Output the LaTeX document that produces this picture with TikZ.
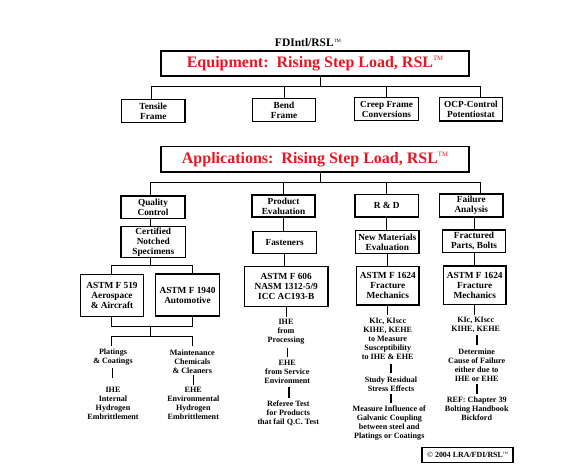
\documentclass[tikz,border=0pt]{standalone}
\usepackage{fontspec}
\setmainfont{Liberation Serif}
\usepackage{graphicx}
\usepackage{xcolor}
\definecolor{rslred}{RGB}{226,24,36}
\newcommand{\tmark}{\raisebox{0.4em}{\mdseries\scalebox{0.42}{TM}}}
\pgfdeclarelayer{edgelayer}
\pgfdeclarelayer{nodelayer}
\pgfsetlayers{edgelayer,nodelayer,main}
\tikzstyle{none}=[inner sep=0pt]
\tikzstyle{box}=[draw, line width=1.5pt, inner sep=0pt, align=center, font=\bfseries\fontsize{9.3}{10}\selectfont]
\tikzstyle{headbox}=[draw, line width=1.5pt, inner sep=0pt, text=rslred, font=\bfseries\fontsize{16}{18}\selectfont]
\tikzstyle{note}=[inner sep=0pt, align=center, font=\bfseries\fontsize{8.1}{9}\selectfont]
\tikzstyle{wire}=[line width=1pt]
\tikzstyle{bar}=[line width=1.6pt]

\begin{document}
\begin{tikzpicture}[x=1pt, y=-1pt]
	\useasboundingbox (0, 0) rectangle (576, 469);
	\begin{pgfonlayer}{nodelayer}
		\node [style=none, font=\bfseries\fontsize{11.5}{13}\selectfont] (0) at (308, 43) {FDIntl/RSL\tmark};
		\node [style=headbox, minimum width=308pt, minimum height=25pt] (1) at (315, 63.5) {Equipment:\ \ Rising Step Load, RSL\tmark};
		\node [style=box, minimum width=63.5pt, minimum height=23pt] (2) at (153.25, 111) {Tensile\\Frame};
		\node [style=box, minimum width=63pt, minimum height=23pt] (3) at (284, 110) {Bend\\Frame};
		\node [style=box, minimum width=64pt, minimum height=23pt] (4) at (386.5, 109) {Creep Frame\\Conversions};
		\node [style=box, minimum width=63pt, minimum height=23.5pt] (5) at (471, 109) {OCP-Control\\Potentiostat};
		\node [style=headbox, minimum width=308pt, minimum height=25.5pt] (6) at (315, 159.3) {Applications:\ \ Rising Step Load, RSL\tmark};
		\node [style=box, minimum width=64pt, minimum height=22.5pt] (7) at (153, 207.3) {Quality\\Control};
		\node [style=box, minimum width=63pt, minimum height=22pt] (8) at (283.5, 206) {Product\\Evaluation};
		\node [style=box, minimum width=63.3pt, minimum height=22.3pt] (9) at (386.7, 205.6) {R \& D};
		\node [style=box, minimum width=63.5pt, minimum height=23pt] (10) at (471.3, 205.5) {Failure\\Analysis};
		\node [style=box, minimum width=64.7pt, minimum height=30.6pt] (11) at (153.3, 242) {Certified\\Notched\\Specimens};
		\node [style=box, minimum width=63.5pt, minimum height=22pt] (12) at (284.7, 242.5) {Fasteners};
		\node [style=box, minimum width=63.3pt, minimum height=22.6pt] (13) at (387.3, 242) {New Materials\\Evaluation};
		\node [style=box, minimum width=63.4pt, minimum height=22.7pt] (14) at (474, 241.3) {Fractured\\Parts, Bolts};
		\node [style=box, minimum width=62.6pt, minimum height=42pt] (15) at (112, 295.5) {ASTM F 519\\Aerospace\\\& Aircraft};
		\node [style=box, minimum width=64pt, minimum height=42pt] (16) at (187.5, 295) {ASTM F 1940\\Automotive};
		\node [style=box, minimum width=83.7pt, minimum height=40pt] (17) at (286.2, 286.7) {ASTM F 606\\NASM 1312-5/9\\ICC AC193-B};
		\node [style=box, minimum width=62.3pt, minimum height=38.3pt] (18) at (387.8, 285.8) {ASTM F 1624\\Fracture\\Mechanics};
		\node [style=box, minimum width=62.7pt, minimum height=38.3pt] (19) at (474.7, 285.2) {ASTM F 1624\\Fracture\\Mechanics};
		\node [style=box, line width=1.2pt, minimum width=91pt, minimum height=15pt, font=\bfseries\fontsize{7.9}{9}\selectfont] (20) at (467.5, 455) {{\mdseries ©} 2004 LRA/FDI/RSL\tmark};
		\node [style=note] (21) at (113, 357.2) {Platings\\\& Coatings};
		\node [style=note] (22) at (113, 403.4) {IHE\\Internal\\Hydrogen\\Embrittlement};
		\node [style=note] (23) at (192.3, 361.7) {Maintenance\\Chemicals\\\& Cleaners};
		\node [style=note] (24) at (193.3, 403) {EHE\\Environmental\\Hydrogen\\Embrittlement};
		\node [style=note] (25) at (286, 331.5) {IHE\\from\\Processing};
		\node [style=note] (26) at (287.3, 372) {EHE\\from Service\\Environment};
		\node [style=note] (27) at (288.3, 413.3) {Referee Test\\for Products\\that fail Q.C. Test};
		\node [style=note] (28) at (387.7, 338.7) {KIc, KIscc\\KIHE, KEHE\\to Measure\\Susceptibility\\to IHE \& EHE};
		\node [style=note] (29) at (391, 384.2) {Study Residual\\Stress Effects};
		\node [style=note] (30) at (389.3, 422.8) {Measure Influence of\\Galvanic Coupling\\between steel and\\Platings or Coatings};
		\node [style=note] (31) at (475.7, 325.2) {KIc, KIscc\\KIHE, KEHE};
		\node [style=note] (32) at (476.7, 365) {Determine\\Cause of Failure\\either due to\\IHE or EHE};
		\node [style=note] (33) at (476.7, 408.7) {REF: Chapter 39\\Bolting Handbook\\Bickford};
		\node [style=none] (40) at (320, 86.5) {};
		\node [style=none] (41) at (151, 86.5) {};
		\node [style=none] (42) at (284, 86.5) {};
		\node [style=none] (43) at (386.6, 86.5) {};
		\node [style=none] (44) at (480.5, 86.5) {};
		\node [style=none] (45) at (320, 182) {};
		\node [style=none] (46) at (150.4, 182) {};
		\node [style=none] (47) at (283, 182) {};
		\node [style=none] (48) at (386.6, 182) {};
		\node [style=none] (49) at (480.5, 182) {};
		\node [style=none] (50) at (150, 265.3) {};
		\node [style=none] (51) at (111.7, 265.3) {};
		\node [style=none] (52) at (192, 265.3) {};
		\node [style=none] (53) at (111.7, 326.5) {};
		\node [style=none] (54) at (192, 326.5) {};
		\node [style=none] (55) at (150, 326.5) {};
		\node [style=none] (56) at (150, 336) {};
		\node [style=none] (57) at (111.7, 336) {};
		\node [style=none] (58) at (192, 336) {};
		\node [style=none] (59) at (111.7, 345.5) {};
		\node [style=none] (60) at (192, 345.5) {};
		\node [style=none] (61) at (286.2, 316.5) {};
		\node [style=none] (62) at (387.8, 315) {};
		\node [style=none] (63) at (474.7, 315) {};
		\node [style=none] (64) at (112.3, 368) {};
		\node [style=none] (65) at (112.3, 378) {};
		\node [style=none] (66) at (193.3, 375) {};
		\node [style=none] (67) at (193.3, 385) {};
		\node [style=none] (68) at (287.3, 347.7) {};
		\node [style=none] (69) at (287.3, 356.7) {};
		\node [style=none] (70) at (288.7, 387) {};
		\node [style=none] (71) at (288.7, 397.7) {};
		\node [style=none] (72) at (391, 364) {};
		\node [style=none] (73) at (391, 373) {};
		\node [style=none] (74) at (391, 394) {};
		\node [style=none] (75) at (391, 402.7) {};
		\node [style=none] (76) at (476.7, 335) {};
		\node [style=none] (77) at (476.7, 345) {};
		\node [style=none] (78) at (476.7, 384.3) {};
		\node [style=none] (79) at (476.7, 394.3) {};
	\end{pgfonlayer}
	\begin{pgfonlayer}{edgelayer}
		\draw [style=wire] (40.center |- 1.south) to (40.center);
		\draw [style=wire] (41.center) to (44.center);
		\draw [style=wire] (41.center) to (41.center |- 2.north);
		\draw [style=wire] (42.center) to (42.center |- 3.north);
		\draw [style=wire] (43.center) to (43.center |- 4.north);
		\draw [style=wire] (44.center) to (44.center |- 5.north);
		\draw [style=wire] (45.center |- 6.south) to (45.center);
		\draw [style=wire] (46.center) to (49.center);
		\draw [style=wire] (46.center) to (46.center |- 7.north);
		\draw [style=wire] (47.center) to (47.center |- 8.north);
		\draw [style=wire] (48.center) to (48.center |- 9.north);
		\draw [style=wire] (49.center) to (49.center |- 10.north);
		\draw [style=wire] (50.center |- 7.south) to (50.center |- 11.north);
		\draw [style=wire] (50.center |- 11.south) to (50.center);
		\draw [style=wire] (51.center) to (52.center);
		\draw [style=wire] (51.center) to (51.center |- 15.north);
		\draw [style=wire] (52.center) to (52.center |- 16.north);
		\draw [style=wire] (53.center |- 15.south) to (53.center);
		\draw [style=wire] (54.center |- 16.south) to (54.center);
		\draw [style=wire] (53.center) to (54.center);
		\draw [style=wire] (55.center) to (56.center);
		\draw [style=wire] (57.center) to (58.center);
		\draw [style=wire] (57.center) to (59.center);
		\draw [style=wire] (58.center) to (60.center);
		\draw [style=wire] (8.south) to (8.south |- 12.north);
		\draw [style=wire] (12.south) to (12.south |- 17.north);
		\draw [style=wire] (17.south) to (61.center);
		\draw [style=wire] (9.south) to (9.south |- 13.north);
		\draw [style=wire] (13.south) to (13.south |- 18.north);
		\draw [style=wire] (18.south) to (62.center);
		\draw [style=wire] (14.north |- 10.south) to (14.north);
		\draw [style=wire] (14.south) to (14.south |- 19.north);
		\draw [style=wire] (19.south) to (63.center);
		\draw [style=bar] (64.center) to (65.center);
		\draw [style=bar] (66.center) to (67.center);
		\draw [style=bar] (68.center) to (69.center);
		\draw [style=bar] (70.center) to (71.center);
		\draw [style=bar] (72.center) to (73.center);
		\draw [style=bar] (74.center) to (75.center);
		\draw [style=bar] (76.center) to (77.center);
		\draw [style=bar] (78.center) to (79.center);
	\end{pgfonlayer}
\end{tikzpicture}
\end{document}
